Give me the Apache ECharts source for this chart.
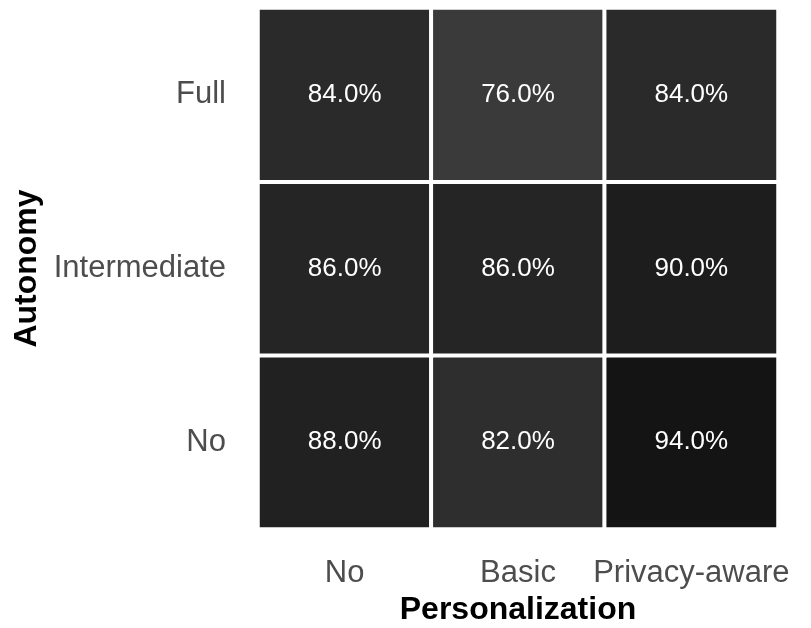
<!DOCTYPE html>
<html>
<head>
<meta charset="utf-8">
<script src="https://cdn.jsdelivr.net/npm/echarts@6/dist/echarts.min.js"></script>
<style>
  html, body { margin: 0; padding: 0; background: #fff; }
  #chart { width: 811px; height: 628px; }
</style>
</head>
<body>
<div id="chart"></div>
<script>
// x: Personalization, y: Autonomy (bottom to top)
const personalization = ['No', 'Basic', 'Privacy-aware'];
const autonomy = ['No', 'Intermediate', 'Full'];
// rows follow autonomy order, columns follow personalization order
const rowNo = [88, 82, 94];
const rowIntermediate = [86, 86, 90];
const rowFull = [84, 76, 84];

const rows = [rowNo, rowIntermediate, rowFull];
const cells = [];
rows.forEach((row, yi) => {
  row.forEach((v, xi) => {
    cells.push([xi, yi, v]);
  });
});

const chart = echarts.init(document.getElementById('chart'));
const font = 'Liberation Sans, Arial, Helvetica, sans-serif';

chart.setOption({
  animation: false,
  grid: { left: 258, right: 33, top: 8, bottom: 99, outerBoundsMode: 'none', containLabel: false },
  xAxis: {
    type: 'category',
    data: personalization,
    name: 'Personalization',
    nameLocation: 'middle',
    nameGap: 65,
    nameTextStyle: { fontFamily: font, fontSize: 32, fontWeight: 'bold', color: '#000' },
    axisLine: { show: false },
    axisTick: { show: false },
    splitLine: { show: false },
    axisLabel: { fontFamily: font, fontSize: 31, color: '#4d4d4d', margin: 29, interval: 0, hideOverlap: false }
  },
  yAxis: {
    type: 'category',
    data: autonomy,
    name: 'Autonomy',
    nameLocation: 'middle',
    nameGap: 203,
    nameRotate: 90,
    nameTextStyle: { fontFamily: font, fontSize: 32, fontWeight: 'bold', color: '#000' },
    axisLine: { show: false },
    axisTick: { show: false },
    splitLine: { show: false },
    axisLabel: { fontFamily: font, fontSize: 31, color: '#4d4d4d', margin: 32, interval: 0, padding: [10, 0, 0, 0] }
  },
  visualMap: {
    show: false,
    min: 76,
    max: 94,
    dimension: 2,
    inRange: { color: ['#3a3a3a', '#2e2e2e', '#212121', '#141414'] }
  },
  series: [{
    type: 'heatmap',
    data: cells,
    itemStyle: { borderColor: '#fff', borderWidth: 4 },
    label: {
      show: true,
      color: '#fff',
      fontFamily: font,
      fontSize: 26,
      formatter: p => p.value[2].toFixed(1) + '%'
    },
    emphasis: { disabled: true }
  }]
});
</script>
</body>
</html>
